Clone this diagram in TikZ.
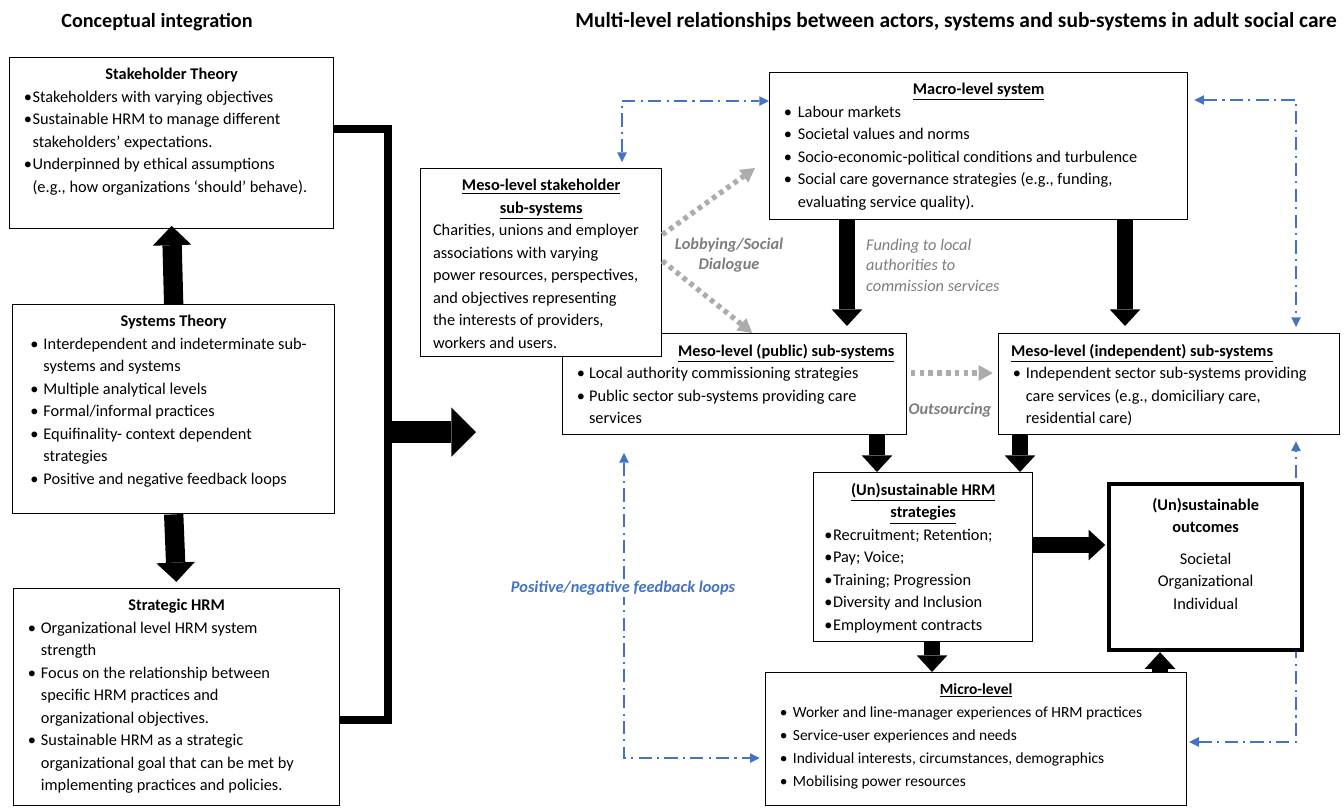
\documentclass[tikz,border=0pt]{standalone}
\usepackage{fontspec}
\setmainfont{Carlito}
\usepackage{tikz}
\usetikzlibrary{arrows.meta}
\usetikzlibrary{positioning}
\definecolor{fbblue}{RGB}{68,114,196}
\definecolor{lobgrey}{RGB}{172,172,172}
\definecolor{labgrey}{RGB}{125,125,125}
\NewDocumentCommand{\bul}{O{11.5pt}O{4pt}}{\par\hangindent=#1\hangafter=1\noindent\makebox[#1][l]{\hspace{#2}\textbullet}\ignorespaces}
\newcommand{\panel}[3]{\parbox[t][\dimexpr#2-8pt\relax][t]{\dimexpr#1-8pt\relax}{\vspace*{2pt}\raggedright#3}}
\tikzset{
	panelbox/.style={draw=black, fill=white, line width=0.8pt, inner sep=4pt, anchor=north west,
		font=\fontsize{9.3}{12.8}\selectfont},
	outcbox/.style={panelbox, line width=2.4pt},
	headline/.style={font=\fontsize{11.5}{13}\selectfont\bfseries},
	fatarrow/.style={draw=black, line width=11pt, -{Triangle[length=11pt,width=22pt,line width=0pt]}},
	hugearrow/.style={draw=black, line width=13pt, -{Triangle[length=14pt,width=28pt,line width=0pt]}},
	midarrow/.style={draw=black, line width=9pt, -{Triangle[length=9.5pt,width=17.5pt,line width=0pt]}},
	bracket/.style={draw=black, line width=4.5pt, line join=miter},
	lobby/.style={draw=lobgrey, line width=3pt, dash pattern=on 2.6pt off 2.4pt,
		-{Triangle[length=8pt,width=9pt,line width=0pt]}},
	fbloop/.style={draw=fbblue, line width=1.2pt, dash pattern=on 7.5pt off 3pt on 1.2pt off 3pt,
		{Triangle[length=5.5pt,width=5.5pt,line width=0pt]}-{Triangle[length=5.5pt,width=5.5pt,line width=0pt]}},
	notelabel/.style={text=labgrey, font=\fontsize{9.3}{11.6}\selectfont\itshape, align=left},
	greylabel/.style={text=labgrey, font=\fontsize{9.3}{11}\selectfont\bfseries\itshape, align=center},
	fblabel/.style={text=fbblue, fill=white, inner sep=1pt, font=\fontsize{9.3}{11}\selectfont\bfseries\itshape},
}

\begin{document}
\begin{tikzpicture}[x=0.02cm, y=-0.02cm]
	\useasboundingbox (0,0) rectangle (1344,809);
	% headings
	\node[headline] (lhead) at (157,22) {Conceptual integration};
	\node[headline, font=\fontsize{12.2}{14}\selectfont\bfseries] (rhead) at (956,22) {Multi-level relationships between actors, systems and sub-systems in adult social care};
	% conceptual integration
	\node[panelbox] (stake) at (9,57) {\panel{6.48cm}{3.42cm}{%
		{\centering\textbf{Stakeholder Theory}\par}
		\bul[9pt] Stakeholders with varying objectives
		\bul[9pt] Sustainable HRM to manage different\newline stakeholders’ expectations.
		\bul[9pt] Underpinned by ethical assumptions\newline (e.g., how organizations ‘should’ behave).}};
	\node[panelbox] (sys) at (12,304) {\panel{6.44cm}{4.18cm}{%
		{\centering\textbf{Systems Theory}\par}
		\bul[13.5pt][6pt] Interdependent and indeterminate sub-\newline systems and systems
		\bul[13.5pt][6pt] Multiple analytical levels
		\bul[13.5pt][6pt] Formal/informal practices
		\bul[13.5pt][6pt] Equifinality- context dependent\newline strategies
		\bul[13.5pt][6pt] Positive and negative feedback loops}};
	\node[panelbox] (shrm) at (13,588) {\panel{6.52cm}{4.34cm}{%
		{\centering\textbf{Strategic HRM}\par}
		\bul Organizational level HRM system\newline strength
		\bul Focus on the relationship between\newline specific HRM practices and\newline organizational objectives.
		\bul Sustainable HRM as a strategic\newline organizational goal that can be met by\newline implementing practices and policies.}};
	\draw[fatarrow, shorten >=-2pt] (sys.north) -- (stake.south);
	\draw[fatarrow, shorten >=3.5pt] (sys.south) -- (shrm.north);
	\coordinate (brk) at (388,432);
	\coordinate (bigtip) at (476,432);
	\draw[bracket] ([yshift=8pt]stake.east) -| (brk) |- ([yshift=-13pt]shrm.east);
	\draw[hugearrow] (brk) -- (bigtip);
	% multi-level systems
	\node[panelbox] (public) at (562,333) {\panel{6.88cm}{2.02cm}{%
		{\raggedleft\underline{\textbf{Meso-level (public) sub-systems}}\hspace*{3pt}\par}
		\bul[11pt] Local authority commissioning strategies
		\bul[11pt] Public sector sub-systems providing care\newline services}};
	\node[panelbox] (mstake) at (420,168) {\panel{4.82cm}{3.76cm}{%
		{\centering\underline{\textbf{Meso-level stakeholder}}\\\underline{\textbf{sub-systems}}\par}
		\hspace*{3pt}Charities, unions and employer\\
		\hspace*{3pt}associations with varying\\
		\hspace*{3pt}power resources, perspectives,\\
		\hspace*{3pt}and objectives representing\\
		\hspace*{3pt}the interests of providers,\\
		\hspace*{3pt}workers and users.}};
	\node[panelbox] (macro) at (769,72) {\panel{8.36cm}{2.94cm}{%
		{\centering\underline{\textbf{Macro-level system}}\par}
		\bul[12pt] Labour markets
		\bul[12pt] Societal values and norms
		\bul[12pt] Socio-economic-political conditions and turbulence
		\bul[12pt] Social care governance strategies (e.g., funding,\newline evaluating service quality).}};
	\node[panelbox] (indep) at (998,333) {\panel{6.82cm}{2.02cm}{%
		\hspace*{3pt}\underline{\textbf{Meso-level (independent) sub-systems}}
		\bul[11.5pt] Independent sector sub-systems providing\newline care services (e.g., domiciliary care,\newline residential care)}};
	\node[panelbox] (hrm) at (813,472) {\panel{4.38cm}{3.38cm}{%
		{\centering\underline{\textbf{(Un)sustainable HRM}}\\\underline{\textbf{strategies}}\par}
		\bul[7pt][2pt] Recruitment; Retention;
		\bul[7pt][2pt] Pay; Voice;
		\bul[7pt][2pt] Training; Progression
		\bul[7pt][2pt] Diversity and Inclusion
		\bul[7pt][2pt] Employment contracts}};
	\node[panelbox, font=\fontsize{8.8}{13.1}\selectfont] (micro) at (765,672) {\panel{8.42cm}{2.66cm}{%
		{\centering\underline{\textbf{Micro-level}}\par}
		\bul Worker and line-manager experiences of HRM practices
		\bul Service-user experiences and needs
		\bul Individual interests, circumstances, demographics
		\bul Mobilising power resources}};
	% downward flows
	\coordinate (fa) at (847,0);
	\coordinate (fb) at (1125,0);
	\coordinate (pa) at (877,0);
	\coordinate (pb) at (1020,0);
	\coordinate (hm) at (932,0);
	\coordinate (mo) at (1160,0);
	\coordinate (ho) at (0,545);
	\coordinate (os) at (0,373);
	\draw[midarrow, shorten >=4pt] (fa |- macro.south) -- (fa |- public.north);
	\draw[midarrow, shorten >=4pt] (fb |- macro.south) -- (fb |- indep.north);
	\draw[midarrow] (pa |- public.south) -- (pa |- hrm.north);
	\draw[midarrow] (pb |- indep.south) -- (pb |- hrm.north);
	\draw[midarrow] (hm |- hrm.south) -- (hm |- micro.north);
	\node[notelabel, anchor=north west] (fund) at (860,233) {Funding to local\\authorities to\\commission services};
	% lobbying and outsourcing
	\coordinate (lobtip) at (755,168);
	\draw[lobby] ([yshift=16pt]mstake.east) -- (lobtip);
	\draw[lobby] ([yshift=1pt]mstake.east) -- ([xshift=10pt]public.north);
	\draw[lobby, shorten <=2pt, shorten >=3pt] (os -| public.east) -- (os -| indep.west);
	\node[greylabel] (lobl) at (729,255) {Lobbying/Social\\Dialogue};
	\node[greylabel] (outl) at (950,410) {Outsourcing};
	% feedback loops
	\coordinate (cTL) at (622,101);
	\coordinate (cTR) at (1296,100);
	\coordinate (cBL) at (624,758);
	\coordinate (cBR) at (1296,742);
	\draw[fbloop, shorten <=3.4pt] (cTL |- mstake.north) -- (cTL) -- (cTL -| macro.west);
	\draw[fbloop, shorten <=3.4pt, shorten >=3.4pt] (cTR -| macro.east) -- (cTR) -- (cTR |- indep.north);
	\draw[fbloop, shorten <=10pt, shorten >=3pt] (cBL |- public.south) -- (cBL) -- (cBL -| micro.west);
	\draw[fbloop, shorten <=1pt, shorten >=3.4pt] (cBR -| micro.east) -- (cBR) -- (cBR |- indep.south);
	\node[fblabel] (fbl) at (623,588) {Positive/negative feedback loops};
	% outcomes
	\node[outcbox] (outc) at (1107,482) {\panel{3.86cm}{3.32cm}{\centering\vspace*{2pt}
		\textbf{(Un)sustainable}\\\textbf{outcomes}\\[5pt]
		Societal\\Organizational\\Individual}};
	\draw[midarrow, shorten >=1pt] (ho -| hrm.east) -- (ho -| outc.west);
	\draw[midarrow] (mo |- micro.north) -- (mo |- outc.south);
\end{tikzpicture}
\end{document}
